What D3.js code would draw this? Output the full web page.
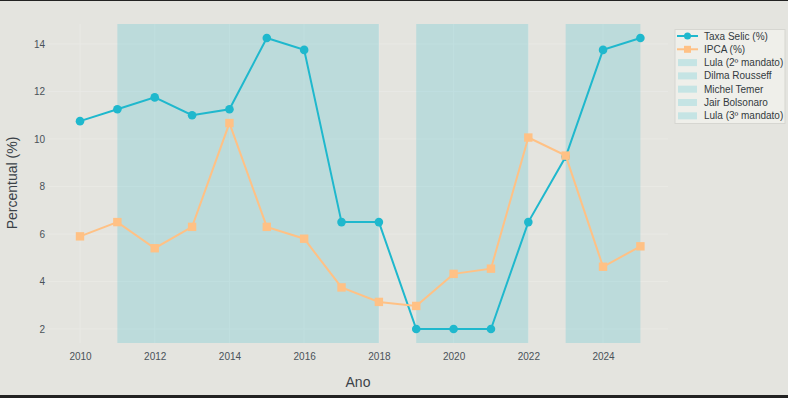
<!DOCTYPE html>
<html>
<head>
<meta charset="utf-8">
<script src="https://cdn.jsdelivr.net/npm/d3@7"></script>
<style>
  body { margin: 0; background: #222; }
  svg { display: block; font-family: "Liberation Sans", Arial, sans-serif; }
</style>
</head>
<body>
<div id="chart"></div>
<script>
// data
const years = [2010, 2011, 2012, 2013, 2014, 2015, 2016, 2017, 2018, 2019, 2020, 2021, 2022, 2023, 2024, 2025];
const selic = [10.75, 11.25, 11.75, 11.0, 11.25, 14.25, 13.75, 6.5, 6.5, 2.0, 2.0, 2.0, 6.5, 9.25, 13.75, 14.25];
const ipca  = [5.9, 6.5, 5.4, 6.3, 10.67, 6.3, 5.8, 3.75, 3.14, 2.97, 4.32, 4.54, 10.06, 9.3, 4.62, 5.48];
const govNames = ["Lula (2º mandato)", "Dilma Rousseff", "Michel Temer", "Jair Bolsonaro", "Lula (3º mandato)"];
const govStart = [2010, 2011, 2016, 2019, 2023];
const govEnd   = [2010, 2016, 2018, 2022, 2025];
const xTicks = [2010, 2012, 2014, 2016, 2018, 2020, 2022, 2024];
const yTicks = [2, 4, 6, 8, 10, 12, 14];

const W = 788, H = 398;
const plot = { left: 48, right: 668, top: 24, bottom: 343 };
const bg = "#e4e4df";
const teal = "#1fb8cd", orange = "#ffc185";

const svg = d3.select("#chart").append("svg")
    .attr("width", W)
    .attr("height", H);

svg.append("rect").attr("x", 0).attr("y", 1).attr("width", W).attr("height", 394).attr("fill", bg);

const x = d3.scaleLinear().domain([2010, 2025]).range([80, 640.4]);
const y = d3.scaleLinear().domain([1.41, 14.84]).range([plot.bottom, plot.top]);

// grid
svg.append("g").selectAll("line").data(yTicks).enter().append("line")
    .attr("x1", plot.left).attr("x2", plot.right)
    .attr("y1", d => y(d)).attr("y2", d => y(d))
    .attr("stroke", "#e9e9e5").attr("stroke-width", 1);
svg.append("g").selectAll("line").data(xTicks).enter().append("line")
    .attr("x1", d => x(d)).attr("x2", d => x(d))
    .attr("y1", plot.top).attr("y2", plot.bottom)
    .attr("stroke", "#e9e9e5").attr("stroke-width", 1);

// government periods
svg.append("g").selectAll("rect").data(govNames).enter().append("rect")
    .attr("x", (d, i) => x(govStart[i]))
    .attr("width", (d, i) => x(govEnd[i]) - x(govStart[i]))
    .attr("y", plot.top)
    .attr("height", plot.bottom - plot.top)
    .attr("fill", teal)
    .attr("opacity", 0.2);

// axes
const xAxis = svg.append("g")
    .attr("transform", `translate(0,${plot.bottom})`)
    .call(d3.axisBottom(x).tickValues(xTicks).tickFormat(d3.format("d")).tickSize(0).tickPadding(10));
const yAxis = svg.append("g")
    .attr("transform", `translate(${plot.left - 2},0)`)
    .call(d3.axisLeft(y).tickValues(yTicks).tickSize(0).tickPadding(1));
[xAxis, yAxis].forEach(a => {
    a.select(".domain").remove();
    a.selectAll("text").attr("fill", "#4a5259").attr("font-size", 10).attr("font-family", "Liberation Sans, Arial, sans-serif");
});

svg.append("text")
    .attr("transform", "translate(17,183) rotate(-90)")
    .attr("text-anchor", "middle")
    .attr("font-size", 14)
    .attr("fill", "#3b4248")
    .text("Percentual (%)");
svg.append("text")
    .attr("x", 358).attr("y", 387)
    .attr("text-anchor", "middle")
    .attr("font-size", 14)
    .attr("fill", "#3b4248")
    .text("Ano");

// lines
const line = d3.line().x(d => x(d[0])).y(d => y(d[1]));
const selicPts = years.map((yr, i) => [yr, selic[i]]);
const ipcaPts = years.map((yr, i) => [yr, ipca[i]]);

svg.append("path").datum(selicPts)
    .attr("fill", "none").attr("stroke", teal).attr("stroke-width", 2).attr("d", line);
svg.append("g").selectAll("circle").data(selicPts).enter().append("circle")
    .attr("cx", d => x(d[0])).attr("cy", d => y(d[1])).attr("r", 4.3).attr("fill", teal);

svg.append("path").datum(ipcaPts)
    .attr("fill", "none").attr("stroke", orange).attr("stroke-width", 2).attr("d", line);
svg.append("g").selectAll("rect").data(ipcaPts).enter().append("rect")
    .attr("x", d => x(d[0]) - 4.2).attr("y", d => y(d[1]) - 4.2)
    .attr("width", 8.4).attr("height", 8.4).attr("fill", orange);

// legend
const lg = svg.append("g");
lg.append("rect").attr("x", 675).attr("y", 29.5).attr("width", 110).attr("height", 94)
    .attr("fill", "#efefea").attr("stroke", "#d6d6d1").attr("stroke-width", 1);
const items = ["Taxa Selic (%)", "IPCA (%)"].concat(govNames);
items.forEach((name, i) => {
    const cy = 36 + i * 13.3;
    const g = lg.append("g");
    if (i === 0) {
        g.append("line").attr("x1", 677).attr("x2", 698).attr("y1", cy).attr("y2", cy).attr("stroke", teal).attr("stroke-width", 2);
        g.append("circle").attr("cx", 687.5).attr("cy", cy).attr("r", 3.5).attr("fill", teal);
    } else if (i === 1) {
        g.append("line").attr("x1", 677).attr("x2", 698).attr("y1", cy).attr("y2", cy).attr("stroke", orange).attr("stroke-width", 2);
        g.append("rect").attr("x", 684).attr("y", cy - 3.5).attr("width", 7).attr("height", 7).attr("fill", orange);
    } else {
        g.append("rect").attr("x", 678).attr("y", cy - 3.5).attr("width", 19).attr("height", 7)
            .attr("fill", teal).attr("opacity", 0.2);
    }
    g.append("text").attr("x", 704).attr("y", cy + 3.5)
        .attr("font-size", 10).attr("fill", "#333a40").text(name);
});
</script>
</body>
</html>
